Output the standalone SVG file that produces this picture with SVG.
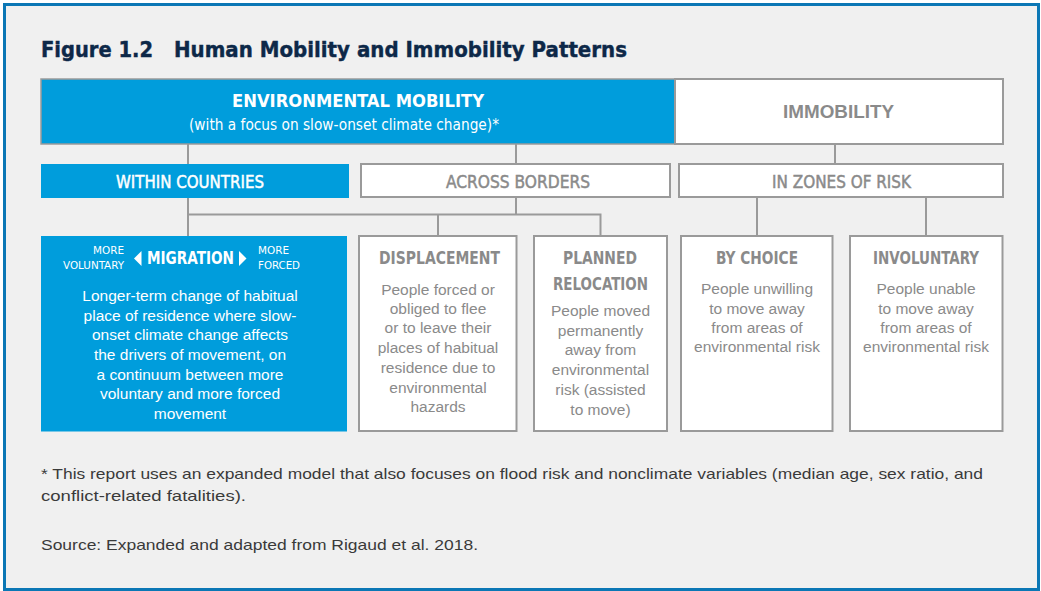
<svg xmlns="http://www.w3.org/2000/svg" width="1041" height="591" viewBox="0 0 1041 591">
<style>
.cond{font-family:"Liberation Sans Narrow","DejaVu Sans Condensed","Roboto Condensed","Liberation Sans",sans-serif;}
.hd{font-weight:bold;font-size:18px;}
.sub{font-size:17px;stroke-width:0.45px;}
.sub.w{stroke:#ffffff;}
.sub.g{stroke:#8a8a8a;}
.body{font-family:"Liberation Sans",Arial,sans-serif;font-size:15.5px;text-anchor:middle;}
.w{fill:#ffffff;}
.g{fill:#8a8a8a;}
.box{fill:#ffffff;stroke:#9a9a9a;stroke-width:2;}
.blue{fill:#009ddc;}
.conn line,.conn path{stroke:#9a9a9a;stroke-width:2;fill:none;}
.note{font-family:"Liberation Sans",Arial,sans-serif;font-size:15px;fill:#3a3a3a;}
</style>
<rect x="4.5" y="4.5" width="1034" height="585" fill="#f0f0f0" stroke="#0b77b5" stroke-width="3"/>
<g id="title">
<text class="cond" x="41" y="57" font-size="22" font-weight="bold" fill="#0d2848" stroke="#0d2848" stroke-width="0.4" textLength="112" lengthAdjust="spacingAndGlyphs">Figure 1.2</text>
<text class="cond" x="174" y="57" font-size="22" font-weight="bold" fill="#0d2848" stroke="#0d2848" stroke-width="0.4" textLength="453" lengthAdjust="spacingAndGlyphs">Human Mobility and Immobility Patterns</text>
</g>
<g class="conn" id="connectors">
<line x1="188" y1="144" x2="188" y2="164"/>
<line x1="516" y1="144" x2="516" y2="164"/>
<line x1="835" y1="144" x2="835" y2="164"/>
<line x1="188" y1="198" x2="188" y2="236"/>
<path d="M188,214.5 H600.5 V236"/>
<line x1="516" y1="197" x2="516" y2="214.5"/>
<line x1="438" y1="214.5" x2="438" y2="236"/>
<line x1="757" y1="197" x2="757" y2="236"/>
<line x1="926" y1="197" x2="926" y2="236"/>
</g>
<g id="environmental-mobility">
<rect x="41" y="79" width="634" height="65" class="blue" stroke="#9a9a9a" stroke-width="1.5"/>
<text class="cond hd w" x="358" y="107" text-anchor="middle" textLength="252" lengthAdjust="spacingAndGlyphs">ENVIRONMENTAL MOBILITY</text>
<text class="cond w" x="344" y="130" font-size="16" text-anchor="middle" textLength="310" lengthAdjust="spacingAndGlyphs">(with a focus on slow-onset climate change)*</text>
</g>
<g id="immobility">
<rect x="675" y="79" width="328" height="65" class="box"/>
<line x1="675" y1="79" x2="675" y2="144" stroke="#9a9a9a" stroke-width="2" stroke-dasharray="5,3"/>
<text class="hd g" x="838.5" y="118" text-anchor="middle" font-family="Liberation Sans,Arial,sans-serif" textLength="111" lengthAdjust="spacingAndGlyphs">IMMOBILITY</text>
</g>
<g id="within-countries">
<rect x="41" y="164" width="308" height="34" class="blue"/>
<text class="cond sub w" x="190" y="188" text-anchor="middle" textLength="148" lengthAdjust="spacingAndGlyphs">WITHIN COUNTRIES</text>
</g>
<g id="across-borders">
<rect x="361" y="164" width="309" height="33" class="box"/>
<text class="cond sub g" x="518" y="188" text-anchor="middle" textLength="144" lengthAdjust="spacingAndGlyphs">ACROSS BORDERS</text>
</g>
<g id="in-zones-of-risk">
<rect x="679" y="164" width="324" height="33" class="box"/>
<text class="cond sub g" x="841.5" y="188" text-anchor="middle" textLength="139" lengthAdjust="spacingAndGlyphs">IN ZONES OF RISK</text>
</g>
<g id="migration">
<rect x="41" y="236" width="306" height="195.5" class="blue"/>
<text class="cond w" x="124" y="254" font-size="10.5" text-anchor="end" textLength="31" lengthAdjust="spacingAndGlyphs">MORE</text>
<text class="cond w" x="124" y="269" font-size="10.5" text-anchor="end" textLength="61" lengthAdjust="spacingAndGlyphs">VOLUNTARY</text>
<polygon points="134,258.5 141.5,251 141.5,266" fill="#ffffff"/>
<text class="cond hd w" x="147" y="264" textLength="87" lengthAdjust="spacingAndGlyphs">MIGRATION</text>
<polygon points="239,251 239,266 246.5,258.5" fill="#ffffff"/>
<text class="cond w" x="258" y="254" font-size="10.5" textLength="31" lengthAdjust="spacingAndGlyphs">MORE</text>
<text class="cond w" x="258" y="269" font-size="10.5" textLength="42" lengthAdjust="spacingAndGlyphs">FORCED</text>
<text class="body w" x="190" y="301">Longer-term change of habitual</text>
<text class="body w" x="190" y="320.5">place of residence where slow-</text>
<text class="body w" x="190" y="340">onset climate change affects</text>
<text class="body w" x="190" y="360">the drivers of movement, on</text>
<text class="body w" x="190" y="379.5">a continuum between more</text>
<text class="body w" x="190" y="399">voluntary and more forced</text>
<text class="body w" x="190" y="419">movement</text>
</g>
<g id="displacement">
<rect x="359" y="236" width="157.5" height="195" class="box"/>
<text class="cond hd g" x="439.5" y="264" text-anchor="middle" textLength="121" lengthAdjust="spacingAndGlyphs">DISPLACEMENT</text>
<text class="body g" x="438" y="294.5">People forced or</text>
<text class="body g" x="438" y="313.5">obliged to flee</text>
<text class="body g" x="438" y="333.3">or to leave their</text>
<text class="body g" x="438" y="353.3">places of habitual</text>
<text class="body g" x="438" y="372.7">residence due to</text>
<text class="body g" x="438" y="392.5">environmental</text>
<text class="body g" x="438" y="412.3">hazards</text>
</g>
<g id="planned-relocation">
<rect x="534" y="236" width="133" height="195" class="box"/>
<text class="cond hd g" x="600" y="264" text-anchor="middle" textLength="74" lengthAdjust="spacingAndGlyphs">PLANNED</text>
<text class="cond hd g" x="600.5" y="289.5" text-anchor="middle" textLength="95" lengthAdjust="spacingAndGlyphs">RELOCATION</text>
<text class="body g" x="600.5" y="316">People moved</text>
<text class="body g" x="600.5" y="335.5">permanently</text>
<text class="body g" x="600.5" y="355">away from</text>
<text class="body g" x="600.5" y="375">environmental</text>
<text class="body g" x="600.5" y="395">risk (assisted</text>
<text class="body g" x="600.5" y="415">to move)</text>
</g>
<g id="by-choice">
<rect x="681" y="236" width="151.5" height="195" class="box"/>
<text class="cond hd g" x="757" y="264" text-anchor="middle" textLength="82" lengthAdjust="spacingAndGlyphs">BY CHOICE</text>
<text class="body g" x="757" y="294.3">People unwilling</text>
<text class="body g" x="757" y="313.5">to move away</text>
<text class="body g" x="757" y="332.8">from areas of</text>
<text class="body g" x="757" y="352.3">environmental risk</text>
</g>
<g id="involuntary">
<rect x="850" y="236" width="152.5" height="195" class="box"/>
<text class="cond hd g" x="926" y="264" text-anchor="middle" textLength="106" lengthAdjust="spacingAndGlyphs">INVOLUNTARY</text>
<text class="body g" x="926" y="294.3">People unable</text>
<text class="body g" x="926" y="313.5">to move away</text>
<text class="body g" x="926" y="332.8">from areas of</text>
<text class="body g" x="926" y="352.3">environmental risk</text>
</g>
<g id="notes">
<text class="note" x="41" y="479" textLength="942" lengthAdjust="spacingAndGlyphs">* This report uses an expanded model that also focuses on flood risk and nonclimate variables (median age, sex ratio, and</text>
<text class="note" x="41" y="501" textLength="205" lengthAdjust="spacingAndGlyphs">conflict-related fatalities).</text>
<text class="note" x="41" y="550" textLength="437" lengthAdjust="spacingAndGlyphs">Source: Expanded and adapted from Rigaud et al. 2018.</text>
</g>
</svg>
